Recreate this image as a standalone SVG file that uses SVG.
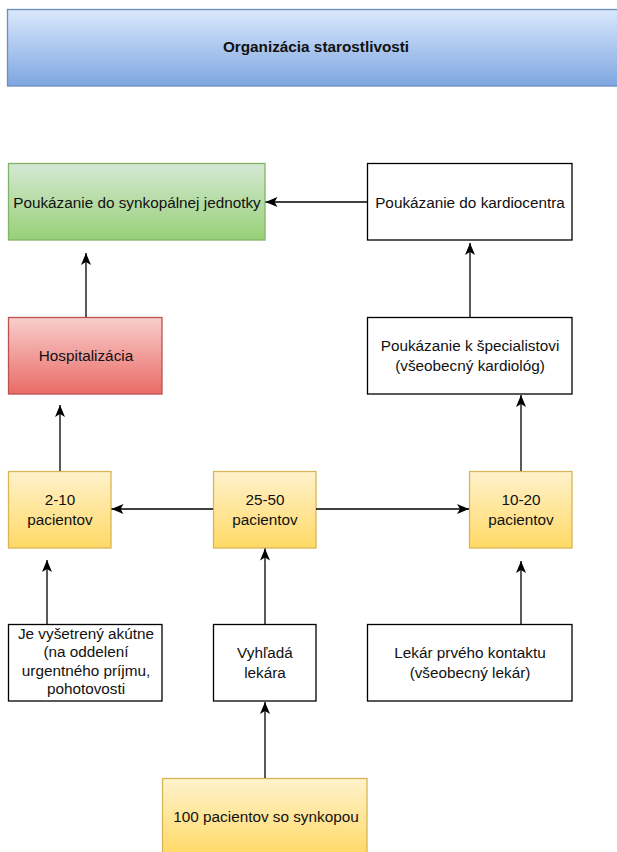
<svg xmlns="http://www.w3.org/2000/svg" width="617" height="852" viewBox="0 0 617 852">
<style>
.box{stroke-width:1.3}
.w{fill:#ffffff;stroke:#000000}
.y{fill:url(#gy);stroke:#d6b656}
.t{font-family:"Liberation Sans",Arial,sans-serif;font-size:15.3px;fill:#111111;text-anchor:middle;dominant-baseline:central}
.b{font-weight:bold}
.c{fill:none;stroke:#000000;stroke-width:1.3}
</style>
<defs>
<linearGradient id="gb" x1="0" y1="0" x2="0" y2="1"><stop offset="0" stop-color="#dae8fc"/><stop offset="1" stop-color="#7ea6e0"/></linearGradient>
<linearGradient id="gg" x1="0" y1="0" x2="0" y2="1"><stop offset="0" stop-color="#d5e8d4"/><stop offset="1" stop-color="#97d077"/></linearGradient>
<linearGradient id="gr" x1="0" y1="0" x2="0" y2="1"><stop offset="0" stop-color="#f8cecc"/><stop offset="1" stop-color="#ea6b66"/></linearGradient>
<linearGradient id="gy" x1="0" y1="0" x2="0" y2="1"><stop offset="0" stop-color="#fff2cc"/><stop offset="1" stop-color="#ffd966"/></linearGradient>
<marker id="ah" markerUnits="userSpaceOnUse" markerWidth="13" markerHeight="11" refX="12" refY="5" orient="auto" viewBox="0 0 13 10">
<path d="M0,0 L12,5 L0,10 L3,5 Z" fill="#000000"/>
</marker>
</defs>

<g id="title">
<rect class="box" x="7.5" y="9.5" width="620" height="76.5" fill="url(#gb)" stroke="#6c8ebf"/>
<text class="t b" x="316" y="46">Organizácia starostlivosti</text>
</g>

<g id="synkopalna">
<rect class="box" x="8.5" y="163.5" width="256.5" height="76.5" fill="url(#gg)" stroke="#82b366"/>
<text class="t" x="137" y="202">Poukázanie do synkopálnej jednotky</text>
</g>

<g id="kardiocentrum">
<rect class="box w" x="367.5" y="163.5" width="204.5" height="76.5"/>
<text class="t" x="470" y="202">Poukázanie do kardiocentra</text>
</g>

<g id="hospitalizacia">
<rect class="box" x="8.5" y="317.5" width="153.5" height="76.5" fill="url(#gr)" stroke="#b85450"/>
<text class="t" x="86" y="355">Hospitalizácia</text>
</g>

<g id="specialista">
<rect class="box w" x="367.5" y="317.5" width="204.5" height="76.5"/>
<text class="t" x="470" y="345.5">Poukázanie k špecialistovi</text>
<text class="t" x="470" y="365.5">(všeobecný kardiológ)</text>
</g>

<g id="p2-10">
<rect class="box y" x="8.5" y="471.5" width="102.5" height="76.5"/>
<text class="t" x="60" y="499">2-10</text>
<text class="t" x="60" y="519">pacientov</text>
</g>

<g id="p25-50">
<rect class="box y" x="213.5" y="471.5" width="102.5" height="76.5"/>
<text class="t" x="265" y="499">25-50</text>
<text class="t" x="265" y="519">pacientov</text>
</g>

<g id="p10-20">
<rect class="box y" x="469.5" y="471.5" width="102.5" height="76.5"/>
<text class="t" x="521" y="499">10-20</text>
<text class="t" x="521" y="519">pacientov</text>
</g>

<g id="akutne">
<rect class="box w" x="8.5" y="624.5" width="153.5" height="76.5"/>
<text class="t" x="86" y="633">Je vyšetrený akútne</text>
<text class="t" x="86" y="651.5">(na oddelení</text>
<text class="t" x="86" y="670">urgentného príjmu,</text>
<text class="t" x="86" y="688.5">pohotovosti</text>
</g>

<g id="vyhlada">
<rect class="box w" x="213.5" y="624.5" width="102.5" height="76.5"/>
<text class="t" x="265" y="652">Vyhľadá</text>
<text class="t" x="265" y="672">lekára</text>
</g>

<g id="lekar">
<rect class="box w" x="367.5" y="624.5" width="204.5" height="76.5"/>
<text class="t" x="470" y="652">Lekár prvého kontaktu</text>
<text class="t" x="470" y="672">(všeobecný lekár)</text>
</g>

<g id="p100">
<rect class="box y" x="162.5" y="778.5" width="204.5" height="77"/>
<text class="t" x="266" y="816">100 pacientov so synkopou</text>
</g>

<g id="connectors">
<line class="c" x1="265" y1="778" x2="265" y2="702" marker-end="url(#ah)"/>
<line class="c" x1="265" y1="624" x2="265" y2="548.5" marker-end="url(#ah)"/>
<line class="c" x1="47" y1="624" x2="47" y2="560" marker-end="url(#ah)"/>
<line class="c" x1="521" y1="624" x2="521" y2="561" marker-end="url(#ah)"/>
<line class="c" x1="213" y1="509" x2="111.5" y2="509" marker-end="url(#ah)"/>
<line class="c" x1="316" y1="509" x2="469" y2="509" marker-end="url(#ah)"/>
<line class="c" x1="60" y1="471" x2="60" y2="405" marker-end="url(#ah)"/>
<line class="c" x1="521" y1="471" x2="521" y2="395" marker-end="url(#ah)"/>
<line class="c" x1="470" y1="317" x2="470" y2="243" marker-end="url(#ah)"/>
<line class="c" x1="86" y1="317" x2="86" y2="253" marker-end="url(#ah)"/>
<line class="c" x1="367" y1="202" x2="265.5" y2="202" marker-end="url(#ah)"/>
</g>
</svg>
